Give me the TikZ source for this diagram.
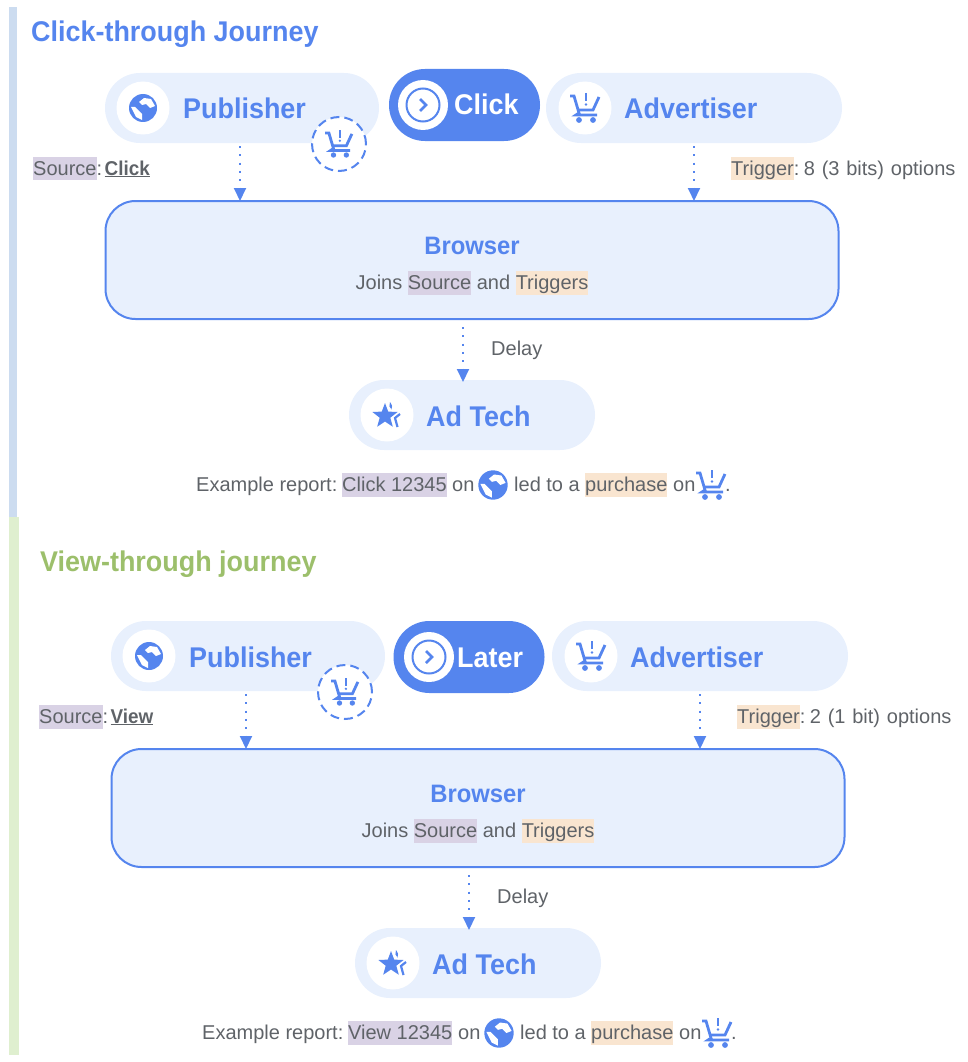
\documentclass[tikz,border=0pt]{standalone}
\usepackage{fontspec}
\setmainfont[BoldFeatures={FakeStretch=0.945}]{Liberation Sans}
\usetikzlibrary{arrows.meta}

\definecolor{mainblue}{HTML}{5585EE}
\definecolor{paleblue}{HTML}{E8F0FD}
\definecolor{barblue}{HTML}{CCDCF0}
\definecolor{bargreen}{HTML}{DFEFCF}
\definecolor{titlegreen}{HTML}{9CBF6B}
\definecolor{txtgrey}{HTML}{5F6368}
\definecolor{srcfill}{HTML}{D9D2E5}
\definecolor{trgfill}{HTML}{F9E5D0}

\newcommand{\hlsrc}[1]{{\setlength{\fboxsep}{0pt}\colorbox{srcfill}{\rule[-5.5pt]{0pt}{24pt}#1}}}
\newcommand{\hltrg}[1]{{\setlength{\fboxsep}{0pt}\colorbox{trgfill}{\rule[-5.5pt]{0pt}{24pt}#1}}}

\tikzset{
  pill/.style={fill=paleblue, inner sep=0, outer sep=0, minimum height=70pt, rounded corners=34.9pt},
  midpill/.style={fill=mainblue, inner sep=0, outer sep=0, minimum width=151pt, minimum height=72pt, rounded corners=35.9pt},
  disc/.style={circle, fill=white, inner sep=0, minimum size=53pt},
  head/.style={font=\bfseries\fontsize{28.5}{32}\selectfont, text=mainblue, inner sep=0, anchor=base west},
  body/.style={font=\fontsize{20}{24}\selectfont, text=txtgrey, inner sep=0, anchor=base west},
  flow/.style={mainblue, line width=2pt, dash pattern=on 2pt off 6.3pt, -{Triangle[length=13pt,width=12pt]}},
  pics/globe/.style={code={
    \fill[mainblue] (0,0) circle (14);
    \fill[white] (-4,-6) -- (1,-10) -- (8,-9) -- (12,-2) -- (7,0) -- (3,-4) -- (-1,-3) -- cycle;
    \fill[white] (-12,-1) -- (-8,-1) -- (-4,3) -- (-1,6) -- (-1,12) -- (-7,9) -- cycle;
  }},
  pics/cart/.style={code={
    \draw[mainblue, line width=2.8pt] (-15,-12) -- (-11,-12) -- (-6,5) -- (-9,7) -- (12,7);
    \draw[mainblue, line width=2.8pt] (14,-11) -- (8,2) -- (-7,2);
    \draw[mainblue, line width=2.4pt] (1,-15) -- (1,-7);
    \fill[mainblue] (1,-3.5) circle (1.4) (-6,12) circle (2.9) (8,12) circle (2.9);
  }},
  pics/spark/.style={code={
    \fill[mainblue] (-2,-12) -- (1.2,-3.4) -- (10.6,-3) -- (3.3,2.7) -- (5.8,11.7) -- (-2,6.5)
      -- (-9.8,11.7) -- (-7.3,2.7) -- (-14.6,-3) -- (-5.2,-3.4) -- cycle;
    \fill[mainblue] (3,-13) .. controls (5,-10) and (6,-8) .. (4.5,-5.5) .. controls (2,-7) and (2,-10) .. (3,-13);
    \draw[mainblue, line width=2.2pt] (13,-1) -- (8,3) -- (10.5,12);
  }},
  pics/chev/.style={code={
    \draw[mainblue, line width=2pt] (0,0) circle (16.5);
    \draw[mainblue, line width=2.6pt] (-3,-6) -- (3,0) -- (-3,6);
  }},
}

% one whole journey, drawn with the coordinates of the upper one
\newcommand{\journey}[7]{
  \node[pill, minimum width=274pt] (pub) at (242,108) {};
  \node[midpill] (mid) at (#2,#3) {};
  \node[pill, minimum width=296pt] (adv) at (694,108) {};
  \node[disc] (pubdisc) at (143,108) {};
  \node[disc, minimum size=50pt] (middisc) at (423,#3) {};
  \node[disc] (advdisc) at (585,108) {};
  \pic at (pubdisc) {globe};
  \pic at (middisc) {chev};
  \pic at (advdisc) {cart};
  \node[head] (pubtxt) at (183,119) {Publisher};
  \node[head, text=white] (midtxt) at (#4,#3+10) {#1};
  \node[head] (advtxt) at (624,119) {Advertiser};
  \node[circle, draw=mainblue, fill=white, line width=2pt, dash pattern=on 9pt off 5pt, minimum size=54pt, inner sep=0] (lost) at (339,144) {};
  \pic[scale=.92] at (lost) {cart};
  \node[body] (srctxt) at (33,175) {\hlsrc{Source}:\hspace{2.5pt}\underline{\textbf{#5}}};
  \node[body] (trgtxt) at (731,175) {\spaceskip=6.8pt\hltrg{Trigger}:\hspace{4.5pt}#6 options};
  \node[pill, draw=mainblue, line width=2pt, fill=paleblue, minimum width=733pt, minimum height=118pt, rounded corners=30pt] (browser) at (472,260) {};
  \node[head, anchor=base, font=\bfseries\fontsize{25.2}{28}\selectfont] (brotxt) at (472,254) {Browser};
  \node[body, anchor=base] (jointxt) at (472,289) {Joins \hlsrc{Source} and \hltrg{Triggers}};
  \coordinate (pubflow) at (240,146);
  \coordinate (advflow) at (694,146);
  \coordinate (delayflow) at (463,327);
  \draw[flow] (pubflow) -- (pubflow |- browser.north);
  \draw[flow] (advflow) -- (advflow |- browser.north);
  \node[pill, minimum width=246pt] (adtech) at (472,415) {};
  \draw[flow, shorten >=-2pt] (delayflow) -- (delayflow |- adtech.north);
  \node[body] (delaytxt) at (491,355) {Delay};
  \node[disc] (techdisc) at (387,415) {};
  \pic at (techdisc) {spark};
  \node[head] (techtxt) at (426,426) {Ad Tech};
  \node[body] (rep1) at (196,491) {Example report:};
  \node[body] (rep2) at (342,491) {\hlsrc{#7 12345}};
  \node[body] (rep3) at (452,491) {on};
  \coordinate (repglobe) at (493,485);
  \pic[scale=1.05] at (repglobe) {globe};
  \node[body] (rep4) at (514,491) {led to a};
  \node[body] (rep5) at (585,491) {\hltrg{purchase}};
  \node[body] (rep6) at (673,491) {on};
  \coordinate (repcart) at (711,485);
  \pic at (repcart) {cart};
  \node[body] (rep7) at (725,491) {.};
}

\begin{document}
\begin{tikzpicture}[x=1pt,y=-1pt]
\useasboundingbox (0,0) rectangle (968,1062);
\fill[barblue] (9,7) rectangle (17,517);
\fill[bargreen] (9,517) rectangle (19,1055);
\node[head] (clicktitle) at (31,42) {Click-through Journey};
\node[head, text=titlegreen] (viewtitle) at (40,571) {View-through journey};
\begin{scope}[name prefix=c-]
\journey{Click}{464.5}{105}{454}{Click}{8 (3 bits)}{Click}
\end{scope}
\begin{scope}[shift={(6,548)}, name prefix=v-]
\journey{Later}{463}{109}{451}{View}{2 (1 bit)}{View}
\end{scope}
\end{tikzpicture}
\end{document}
